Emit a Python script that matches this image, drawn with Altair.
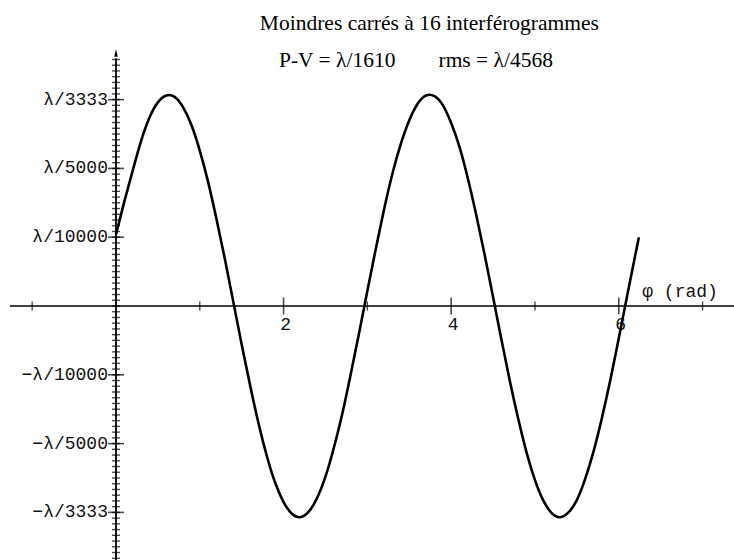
import altair as alt
import pandas as pd

# Residual wavefront error (units of 1e-4 lambda) versus phase phi (rad)
phi = [0.0, 0.1, 0.2, 0.3, 0.4, 0.5, 0.6, 0.7, 0.8, 0.9,
       1.0, 1.1, 1.2, 1.3, 1.4, 1.5, 1.6, 1.7, 1.8, 1.9,
       2.0, 2.1, 2.2, 2.3, 2.4, 2.5, 2.6, 2.7, 2.8, 2.9,
       3.0, 3.1, 3.2, 3.3, 3.4, 3.5, 3.6, 3.7, 3.8, 3.9,
       4.0, 4.1, 4.2, 4.3, 4.4, 4.5, 4.6, 4.7, 4.8, 4.9,
       5.0, 5.1, 5.2, 5.3, 5.4, 5.5, 5.6, 5.7, 5.8, 5.9,
       6.0, 6.1, 6.2, 6.24]
err = [1.04, 1.52, 1.97, 2.40, 2.74, 2.96, 3.06, 3.04, 2.89, 2.63,
       2.26, 1.80, 1.26, 0.68, 0.06, -0.56, -1.15, -1.70, -2.18, -2.57,
       -2.85, -3.02, -3.07, -2.99, -2.79, -2.48, -2.06, -1.57, -1.00, -0.40,
       0.22, 0.83, 1.41, 1.93, 2.36, 2.70, 2.94, 3.06, 3.05, 2.92,
       2.66, 2.31, 1.85, 1.32, 0.74, 0.13, -0.49, -1.09, -1.64, -2.13,
       -2.53, -2.83, -3.01, -3.07, -3.00, -2.82, -2.51, -2.11, -1.62, -1.07,
       -0.47, 0.15, 0.76, 1.00]

# Axis furniture
y_major = [3, 2, 1, -1, -2, -3]
y_labels = ["λ/3333", "λ/5000", "λ/10000", "−λ/10000", "−λ/5000", "−λ/3333"]
y_minor = [k / 12 for k in range(-44, 44)]
x_major = [2, 4, 6]
x_labels = ["2", "4", "6"]
x_minor = [-1, 1, 3, 5, 7]

x_range = [-1.265, 7.375]
y_range = [-3.70, 3.60]

NBSP = "\u00a0"
title_line = "Moindres carrés à 16 interférogrammes"
subtitle_line = "P-V = λ/1610" + NBSP * 8 + "rms = λ/4568"

xs = alt.Scale(domain=[-1.384, 7.375], nice=False, zero=False)
ys = alt.Scale(domain=[-3.692, 4.448], nice=False, zero=False)

MONO = "Liberation Mono"
SERIF = "Liberation Serif"


def X(field):
    return alt.X(field, type="quantitative", scale=xs, axis=None)


def Y(field):
    return alt.Y(field, type="quantitative", scale=ys, axis=None)


curve_df = pd.DataFrame({"phi": phi, "err": err})
curve = alt.Chart(curve_df).mark_line(color="black", strokeWidth=2.6, interpolate="natural").encode(
    x=X("phi"), y=Y("err")
)

xaxis_df = pd.DataFrame({"x": [x_range[0]], "x2": [x_range[1]], "y": [0]})
x_axis = alt.Chart(xaxis_df).mark_rule(color="black", strokeWidth=1.6).encode(
    x=X("x"), x2="x2", y=Y("y")
)

yaxis_df = pd.DataFrame({"x": [0], "y": [y_range[0]], "y2": [y_range[1]]})
y_axis = alt.Chart(yaxis_df).mark_rule(color="black", strokeWidth=1.8).encode(
    x=X("x"), y=Y("y"), y2="y2"
)

arrow_df = pd.DataFrame({"x": [0], "y": [3.68]})
arrow = alt.Chart(arrow_df).mark_point(
    shape="M0,-1L0.45,1L-0.45,1Z", filled=True, color="black", opacity=1, size=60
).encode(x=X("x"), y=Y("y"))

ymin_df = pd.DataFrame({"x": 0, "y": y_minor})
y_minor_ticks = alt.Chart(ymin_df).mark_tick(
    orient="horizontal", color="black", size=8, thickness=1.4
).encode(x=X("x"), y=Y("y"))

ymaj_df = pd.DataFrame({"x": 0, "y": y_major, "label": y_labels})
y_major_ticks = alt.Chart(ymaj_df).mark_tick(
    orient="horizontal", color="black", size=16, thickness=1.6
).encode(x=X("x"), y=Y("y"))
y_text = alt.Chart(ymaj_df).mark_text(
    font=MONO, fontSize=18, align="right", baseline="middle", dx=-8, color="#111111"
).encode(x=X("x"), y=Y("y"), text="label")

xmin_df = pd.DataFrame({"x": x_minor, "y": 0})
x_minor_ticks = alt.Chart(xmin_df).mark_tick(
    orient="vertical", color="black", size=9, thickness=1.4
).encode(x=X("x"), y=Y("y"))

xmaj_df = pd.DataFrame({"x": x_major, "y": 0, "label": x_labels})
x_major_ticks = alt.Chart(xmaj_df).mark_tick(
    orient="vertical", color="black", size=17, thickness=1.6
).encode(x=X("x"), y=Y("y"))
x_text = alt.Chart(xmaj_df).mark_text(
    font=MONO, fontSize=18, align="center", baseline="middle", dx=2, dy=19, color="#111111"
).encode(x=X("x"), y=Y("y"), text="label")

xname_df = pd.DataFrame({"x": [6.28], "y": [0.20], "label": ["φ (rad)"]})
x_name = alt.Chart(xname_df).mark_text(
    font=MONO, fontSize=18, align="left", baseline="middle", color="#111111"
).encode(x=X("x"), y=Y("y"), text="label")

titles_df = pd.DataFrame({
    "x": [3.74, 3.58],
    "y": [4.01, 3.47],
    "label": [title_line, subtitle_line],
})
titles = alt.Chart(titles_df).mark_text(
    font=SERIF, fontSize=21.5, align="center", baseline="alphabetic", color="black"
).encode(x=X("x"), y=Y("y"), text="label")

chart = alt.layer(
    x_axis, y_axis, arrow, y_minor_ticks, y_major_ticks, x_minor_ticks, x_major_ticks,
    curve, y_text, x_text, x_name, titles
).properties(
    width=734, height=560, padding=0,
    autosize=alt.AutoSizeParams(type="none"),
    background="white",
).configure_view(stroke=None)

chart.save("out.html", embed_options={"renderer": "svg", "actions": False})
